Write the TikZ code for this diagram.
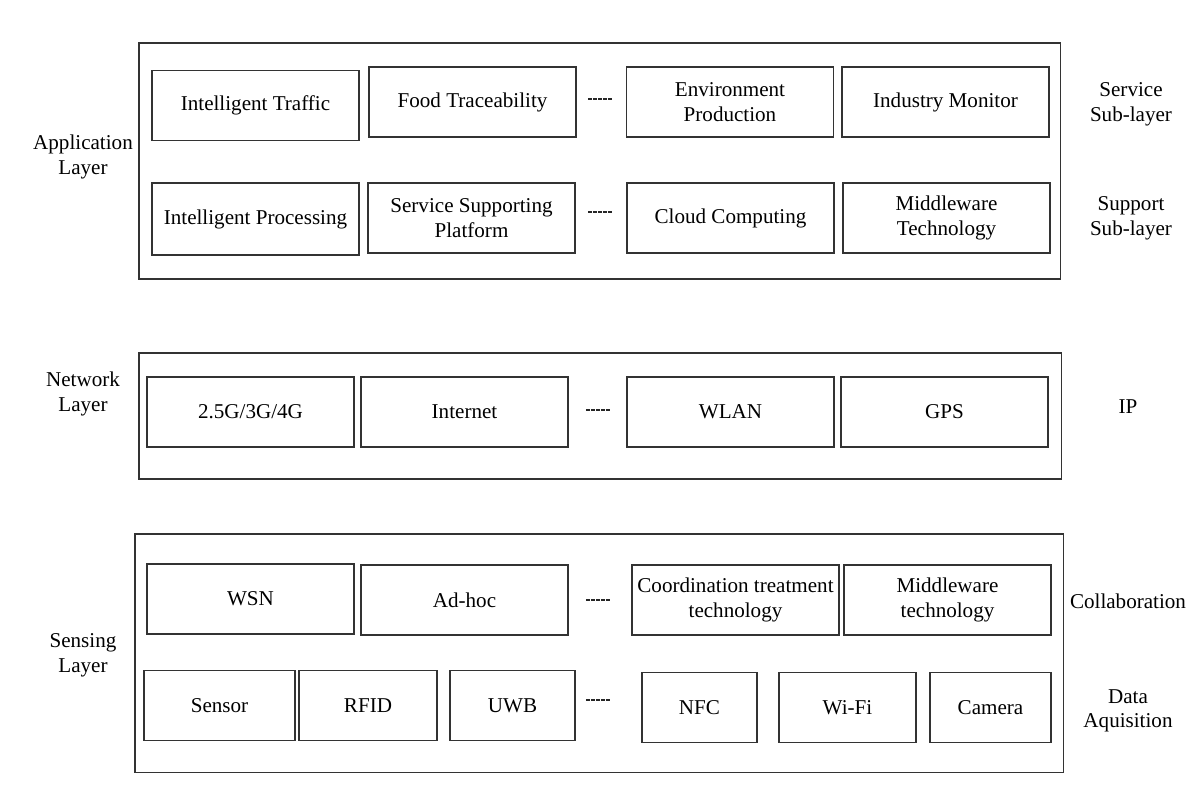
\documentclass[tikz,border=0pt]{standalone}
\usepackage{fontspec}
\setmainfont{Liberation Serif}
\usetikzlibrary{positioning,fit}
\pgfdeclarelayer{background}
\pgfsetlayers{background,main}

\begin{document}
\begin{tikzpicture}[
            every node/.style={on grid},
            box/.style={draw=black!80,line width=1pt,minimum width=4.14cm,minimum height=1.40cm,
                        align=center,inner sep=1pt,font=\fontsize{12}{14}\selectfont},
            small/.style={box,minimum width=#1},
            lbl/.style={align=center,font=\fontsize{12}{14}\selectfont},
            layer/.style={draw=black!80,line width=1pt,inner xsep=0.2cm},
            gap/.style={line width=1.5pt,black!85,dash pattern=on 2.4pt off 0.4pt}
        ]

        \useasboundingbox (0,0) rectangle (23.96,-15.74);

        % Draw service sub-layer %
        \node[box] (traffic) at (5.11,-2.11) {Intelligent Traffic};
        \node[box] (food) at (9.45,-2.04) {Food Traceability};
        \node[box,right=5.15cm of food] (env) {Environment\\Production};
        \node[box,right=4.31cm of env] (industry) {Industry Monitor};

        % Draw support sub-layer %
        \node[box,minimum height=1.44cm] (proc) at (5.11,-4.38) {Intelligent Processing};
        \node[box] (platform) at (9.43,-4.36) {Service Supporting\\Platform};
        \node[box,right=5.18cm of platform] (cloud) {Cloud Computing};
        \node[box,right=4.32cm of cloud] (mwapp) {Middleware\\Technology};

        % Draw network row %
        \node[box] (cell) at (5.01,-8.24) {2.5G/3G/4G};
        \node[box,right=4.28cm of cell] (internet) {Internet};
        \node[box,right=5.32cm of internet] (wlan) {WLAN};
        \node[box,right=4.28cm of wlan] (gps) {GPS};

        % Draw collaboration row %
        \node[box] (wsn) at (5.01,-11.98) {WSN};
        \node[box] (adhoc) at (9.29,-12.00) {Ad-hoc};
        \node[box,right=5.42cm of adhoc] (coord) {Coordination treatment\\technology};
        \node[box,right=4.24cm of coord] (mwsens) {Middleware\\technology};

        % Draw data aquisition row %
        \node[small=3.02cm] (sensor) at (4.39,-14.11) {Sensor};
        \node[small=2.76cm,right=2.97cm of sensor] (rfid) {RFID};
        \node[small=2.50cm,right=2.89cm of rfid] (uwb) {UWB};
        \node[small=2.30cm] (nfc) at (13.99,-14.15) {NFC};
        \node[small=2.74cm,right=2.96cm of nfc] (wifi) {Wi-Fi};
        \node[small=2.42cm,right=2.86cm of wifi] (camera) {Camera};

        % Draw gaps %
        \coordinate (g1) at (12.00,-1.98);
        \coordinate (g2) at (12.00,-4.24);
        \coordinate (g3) at (11.96,-8.20);
        \coordinate (g4) at (11.96,-12.00);
        \coordinate (g5) at (11.96,-14.00);
        \foreach \g in {g1,g2,g3,g4,g5}
            \draw[gap] ([xshift=-0.24cm]\g) -- ([xshift=0.24cm]\g);

        % Draw layers %
        \begin{pgfonlayer}{background}
            \node[layer,inner xsep=0.22cm,inner ysep=0.46cm,xshift=-0.03cm,fit=(traffic) (industry) (proc) (mwapp)] (app) {};
            \node[layer,inner ysep=0.54cm,yshift=-0.08cm,xshift=0.05cm,fit=(cell) (gps)] (net) {};
            \node[layer,inner ysep=0.58cm,xshift=0.03cm,fit=(wsn) (mwsens) (sensor) (camera)] (sens) {};
        \end{pgfonlayer}

        % Labels %
        \node[lbl] (applbl) at (1.66,-3.14) {Application\\Layer};
        \node[lbl] (netlbl) at (1.66,-7.88) {Network\\Layer};
        \node[lbl] (senslbl) at (1.66,-13.10) {Sensing\\Layer};
        \node[lbl] (service) at (22.62,-2.08) {Service\\Sub-layer};
        \node[lbl] (support) at (22.62,-4.36) {Support\\Sub-layer};
        \node[lbl] (ip) at (22.56,-8.14) {IP};
        \node[lbl] (collab) at (22.56,-12.02) {Collaboration};
        \node[lbl] (acq) at (22.56,-14.22) {Data\\Aquisition};
\end{tikzpicture}
\end{document}
